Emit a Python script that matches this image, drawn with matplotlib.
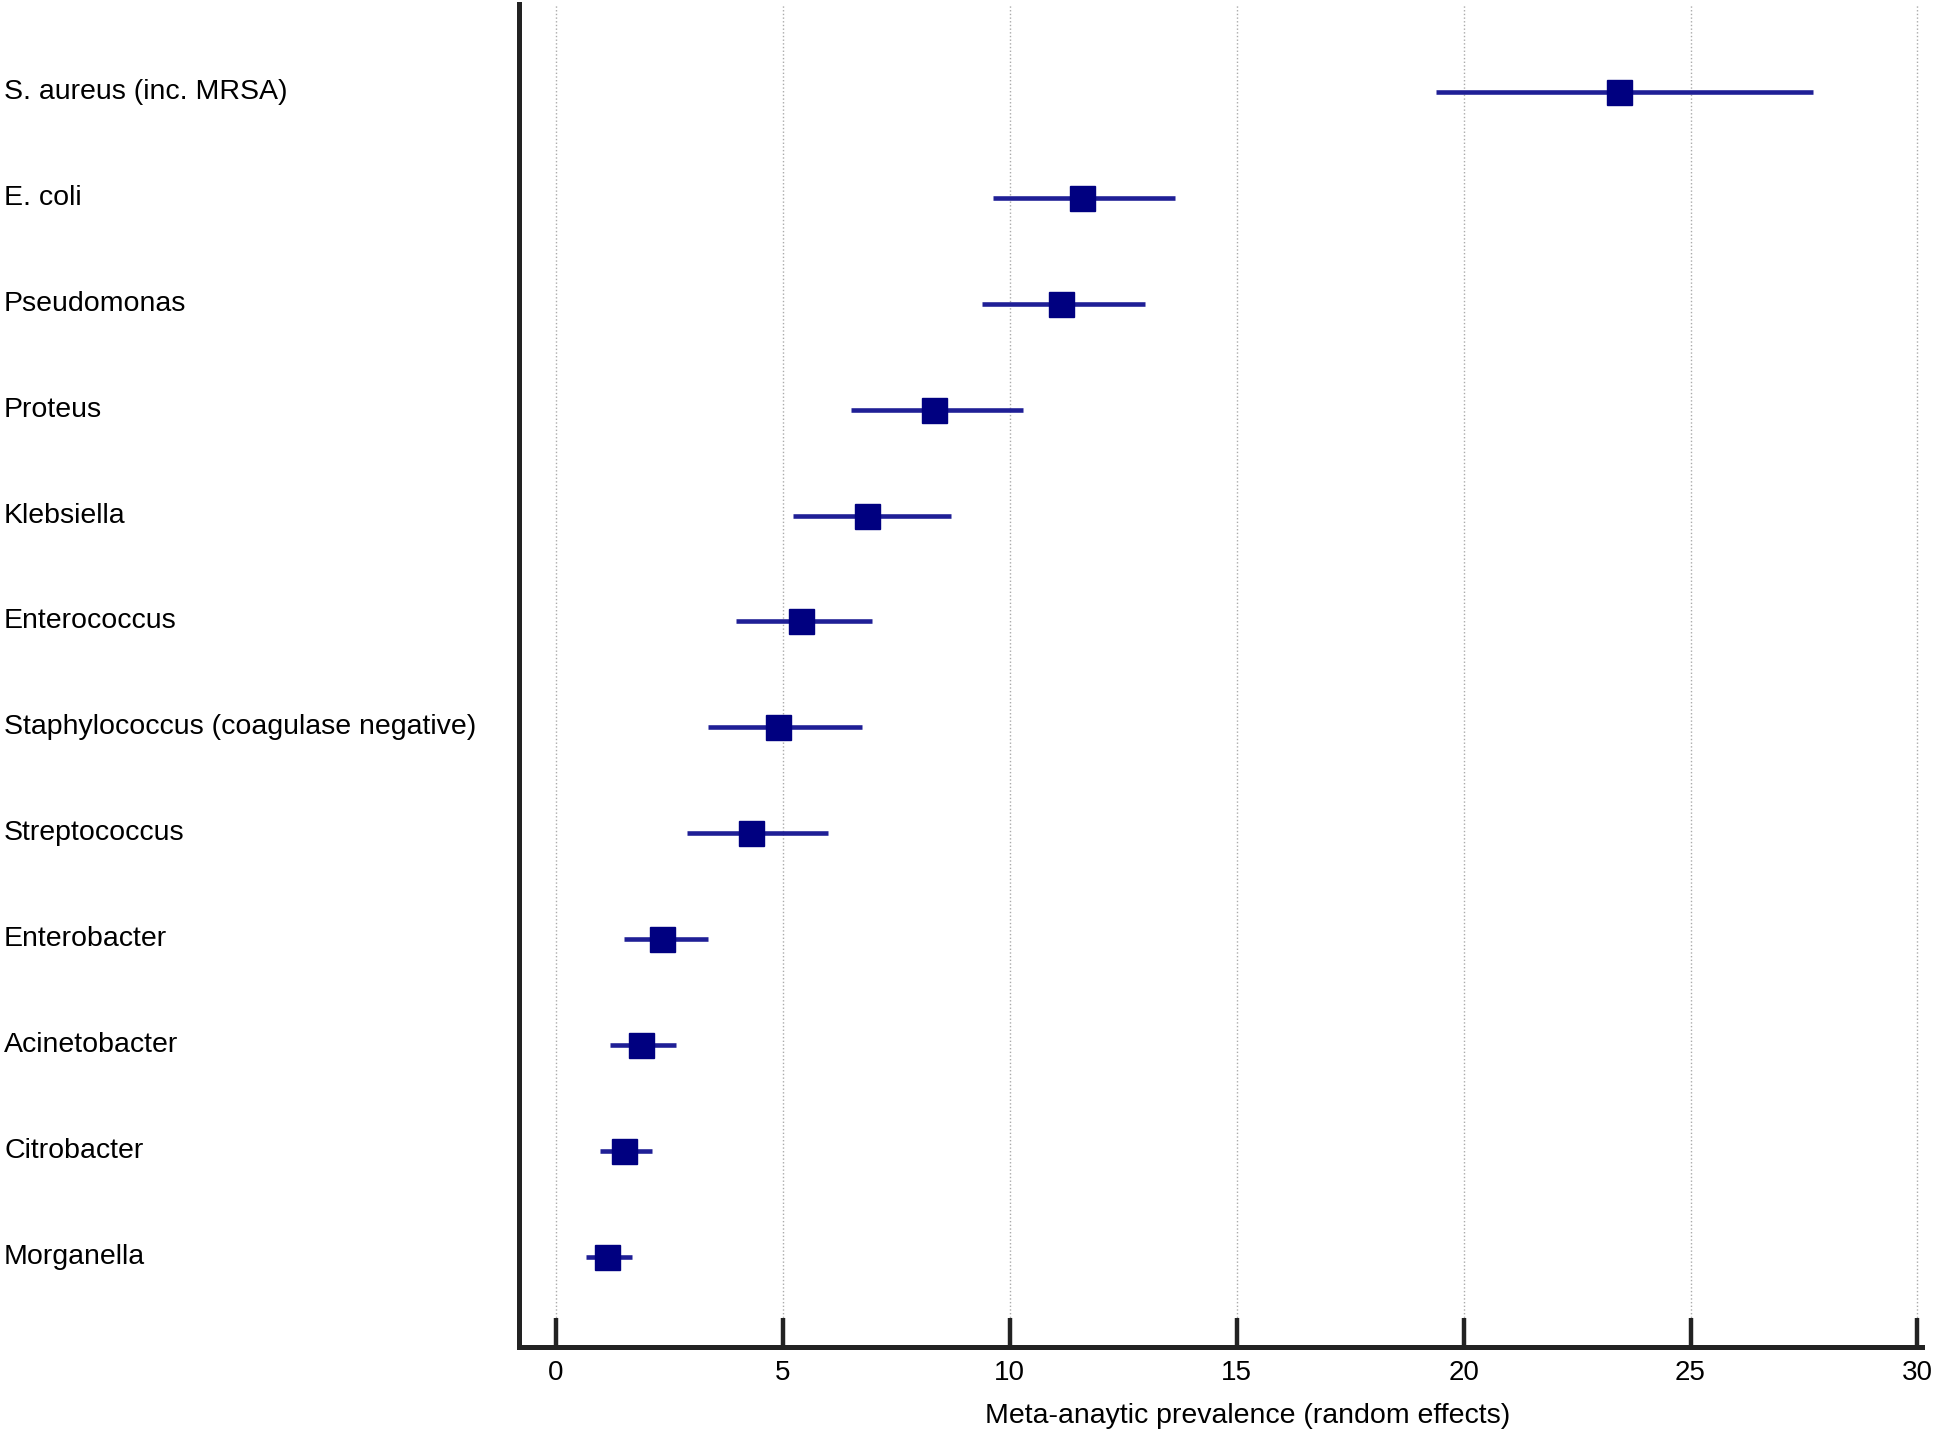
import matplotlib
matplotlib.use("Agg")
import matplotlib.pyplot as plt
import matplotlib.transforms as mtransforms

# organisms, top to bottom
organisms = ["S. aureus (inc. MRSA)", "E. coli", "Pseudomonas", "Proteus", "Klebsiella",
             "Enterococcus", "Staphylococcus (coagulase negative)", "Streptococcus",
             "Enterobacter", "Acinetobacter", "Citrobacter", "Morganella"]
prevalence = [23.42, 11.6, 11.13, 8.32, 6.86, 5.4, 4.9, 4.3, 2.34, 1.87, 1.49, 1.13]
ci_low = [19.39, 9.64, 9.39, 6.5, 5.23, 3.97, 3.36, 2.89, 1.49, 1.18, 0.96, 0.66]
ci_high = [27.69, 13.64, 12.97, 10.3, 8.7, 6.97, 6.75, 6.0, 3.36, 2.64, 2.12, 1.68]
xticks = [0, 5, 10, 15, 20, 25, 30]

plt.rcParams['font.family'] = ['Liberation Sans', 'DejaVu Sans']
narrow = ['Liberation Sans Narrow', 'Liberation Sans']

fig = plt.figure(figsize=(19.6, 14.32), dpi=100)
ax = fig.add_axes([519/1960, 1 - 1347/1432, (1922-519)/1960, (1347-4)/1432])

ypos = list(range(len(organisms)))
for y, lo, hi in zip(ypos, ci_low, ci_high):
    ax.plot([lo, hi], [y, y], color='#1f1f96', lw=3.3, solid_capstyle='butt', zorder=3)
ax.plot(prevalence, ypos, 's', color='#000080', markersize=18, zorder=4)

ax.set_xlim(-0.815, 30.1)
ax.set_ylim(11.85, -0.83)
ax.set_xticks(xticks)
ax.set_xticklabels([str(t) for t in xticks], family=narrow, fontsize=20)
ax.set_yticks([])
ax.grid(axis='x', linestyle=':', color='#aaaaaa', lw=1.0, zorder=0)
ax.tick_params(axis='x', direction='in', length=21, width=3.2, color='#222222', pad=9)

for s in ['top', 'right']:
    ax.spines[s].set_visible(False)
for s in ['left', 'bottom']:
    ax.spines[s].set_linewidth(3.6)
    ax.spines[s].set_color('#222222')

trans = mtransforms.blended_transform_factory(fig.transFigure, ax.transData)
for y, name in zip(ypos, organisms):
    ax.text(4/1960, y, name, transform=trans, ha='left', va='center', fontsize=20.5, clip_on=False)

fig.text(1248/1960, 1 - 1416/1432, "Meta-anaytic prevalence (random effects)", ha='center', va='center',
         fontsize=20.5, family=narrow)

fig.savefig("out.png", dpi=100, facecolor='white')
